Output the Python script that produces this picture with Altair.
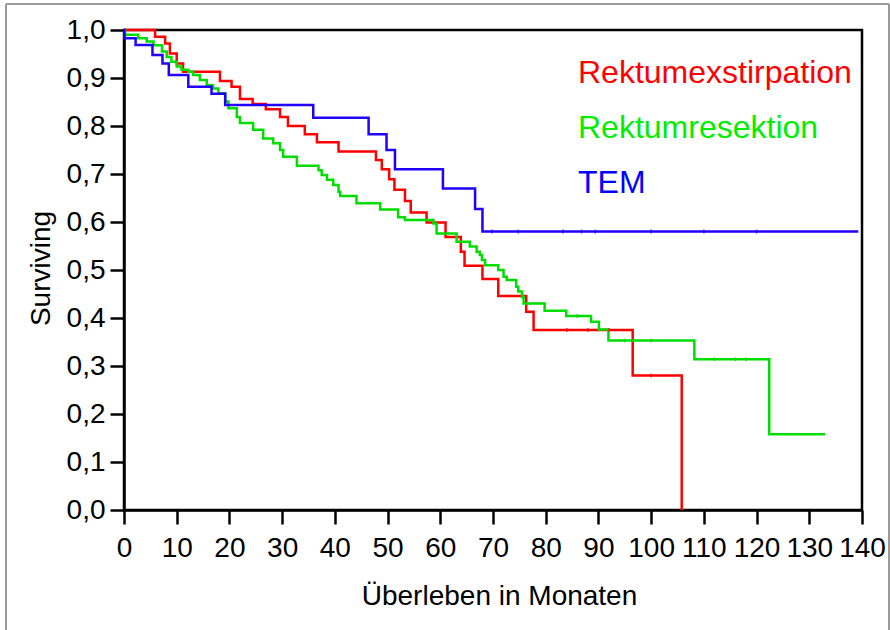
import altair as alt
import pandas as pd

# Kaplan-Meier step points (months, survival fraction) for each procedure
ext_months = [0, 5.9, 7.8, 8.7, 10.0, 11.2, 18.2, 20.4, 22.0, 24.4, 26.9, 29.6, 31.1, 34.3,
              36.6, 40.7, 47.8, 48.9, 50.3, 51.3, 53.3, 54.4, 57.4, 61.0, 63.9, 64.6,
              68.0, 71.0, 76.3, 77.7, 96.5, 105.8]
ext_surv = [1.0, 0.986, 0.972, 0.951, 0.93, 0.913, 0.894, 0.882, 0.856, 0.846, 0.835, 0.819, 0.80, 0.783,
            0.766, 0.747, 0.729, 0.71, 0.689, 0.667, 0.644, 0.620, 0.599, 0.569, 0.538, 0.509,
            0.481, 0.446, 0.413, 0.375, 0.28, 0.0]

res_months = [0, 0.2, 2.7, 4.3, 5.6, 7.2, 8.1, 9.0, 10.0, 10.9, 12.2, 13.1, 14.4, 15.7, 16.9,
              17.9, 19.2, 19.8, 21.4, 22.0, 24.5, 26.4, 28.3, 29.6, 30.2, 32.8, 36.9, 37.5,
              38.5, 39.7, 40.7, 41.0, 44.1, 48.6, 52.0, 53.3, 58.7, 59.3, 63.1, 65.6, 66.9,
              67.5, 67.9, 68.5, 71.0, 72.0, 72.6, 74.4, 74.8, 75.5, 75.8, 79.8, 83.9, 88.6,
              90.1, 91.9, 108.2, 122.4, 133.0]
res_surv = [1.0, 0.99, 0.983, 0.976, 0.968, 0.955, 0.944, 0.934, 0.924, 0.917, 0.913, 0.906, 0.896,
            0.885, 0.878, 0.868, 0.851, 0.837, 0.819, 0.806, 0.792, 0.774, 0.764, 0.75, 0.736,
            0.717, 0.708, 0.698, 0.688, 0.677, 0.663, 0.654, 0.639, 0.626, 0.61, 0.604, 0.597,
            0.576, 0.559, 0.549, 0.538, 0.531, 0.521, 0.51, 0.5, 0.486, 0.479, 0.465, 0.455,
            0.444, 0.43, 0.415, 0.404, 0.392, 0.376, 0.353, 0.314, 0.158, 0.158]

tem_months = [0, 0.1, 2.2, 5.4, 7.3, 8.5, 12.2, 16.6, 19.2, 35.9, 46.4, 49.8, 51.4, 60.5,
              66.6, 68.0, 139.3]
tem_surv = [1.0, 0.983, 0.969, 0.948, 0.93, 0.906, 0.882, 0.867, 0.844, 0.817, 0.783, 0.75,
            0.71, 0.67, 0.627, 0.58, 0.58]

# Censored observations (small ticks on the curves)
ext_cens_months = [84.0, 88.0, 92.0, 100.0]
ext_cens_surv = [0.375, 0.375, 0.375, 0.28]
res_cens_months = [86.0, 95.0, 100.0, 112.0, 116.0, 118.0]
res_cens_surv = [0.404, 0.353, 0.353, 0.314, 0.314, 0.314]
tem_cens_months = [69.8, 74.8, 83.3, 86.8, 89.4, 100.0, 110.0, 120.0]
tem_cens_surv = [0.58] * 8

groups = ["Rektumexstirpation", "Rektumresektion", "TEM"]
line_colors = ["#ff0000", "#00dd00", "#2200ff"]
text_colors = ["#ff0000", "#00ee00", "#0000ff"]

curves = pd.concat([
    pd.DataFrame({"Monate": ext_months, "Surviving": ext_surv, "Gruppe": groups[0]}),
    pd.DataFrame({"Monate": res_months, "Surviving": res_surv, "Gruppe": groups[1]}),
    pd.DataFrame({"Monate": tem_months, "Surviving": tem_surv, "Gruppe": groups[2]}),
])
censored = pd.concat([
    pd.DataFrame({"Monate": ext_cens_months, "Surviving": ext_cens_surv, "Gruppe": groups[0]}),
    pd.DataFrame({"Monate": res_cens_months, "Surviving": res_cens_surv, "Gruppe": groups[1]}),
    pd.DataFrame({"Monate": tem_cens_months, "Surviving": tem_cens_surv, "Gruppe": groups[2]}),
])

FONT = "Liberation Sans"

x_scale = alt.Scale(domain=[0, 140], nice=False)
y_scale = alt.Scale(domain=[0, 1], nice=False)
color_scale = alt.Scale(domain=groups, range=line_colors)

x_axis = alt.Axis(
    title="Überleben in Monaten", values=list(range(0, 141, 10)), format="d",
    grid=False, tickSize=14, tickWidth=2.5, domainWidth=2.5, domainColor="black",
    tickColor="black", labelFontSize=28, labelFont=FONT, labelColor="black",
    labelPadding=10, labelFlush=False, labelOverlap=False,
    titleFontSize=28, titleFont=FONT, titleFontWeight="normal", titleColor="black",
    titleX=375, titleY=94, titleBaseline="alphabetic",
)
y_axis = alt.Axis(
    title="Surviving", values=[i / 10 for i in range(11)],
    labelExpr="replace(format(datum.value, '.1f'), '.', ',')",
    grid=False, tickSize=14, tickWidth=2.5, domainWidth=2.5, domainColor="black",
    tickColor="black", labelFontSize=28, labelFont=FONT, labelColor="black",
    labelPadding=5, labelFlush=False, labelOverlap=False,
    titleFontSize=28, titleFont=FONT, titleFontWeight="normal", titleColor="black",
    titleX=-83, titleY=238, titleAngle=270, titleAlign="center", titleBaseline="middle",
)

lines = alt.Chart(curves).mark_line(interpolate="step-after", strokeWidth=2.5).encode(
    x=alt.X("Monate:Q", scale=x_scale, axis=x_axis),
    y=alt.Y("Surviving:Q", scale=y_scale, axis=y_axis),
    color=alt.Color("Gruppe:N", scale=color_scale, legend=None),
    detail="Gruppe:N",
)

ticks = alt.Chart(censored).mark_tick(orient="vertical", size=4, thickness=1.5).encode(
    x=alt.X("Monate:Q", scale=x_scale),
    y=alt.Y("Surviving:Q", scale=y_scale),
    color=alt.Color("Gruppe:N", scale=color_scale, legend=None),
)

# Group labels in the upper right of the plot area (one text per group)
label_rows = [53, 108, 163]
labels = alt.layer(*[
    alt.Chart(pd.DataFrame({"Gruppe": [groups[i]]})).mark_text(
        align="left", baseline="alphabetic", fontSize=32, font=FONT,
        color=text_colors[i],
    ).encode(x=alt.value(454), y=alt.value(label_rows[i]), text="Gruppe:N")
    for i in range(3)
])

# Outer light-gray frame around the figure
frame_color = "#9a9a9a"
one_row = pd.DataFrame({"k": [0]})
frame = alt.layer(
    alt.Chart(one_row).mark_rule(color=frame_color, strokeWidth=2).encode(
        x=alt.value(-118), y=alt.value(-26), y2=alt.value(610)),
    alt.Chart(one_row).mark_rule(color=frame_color, strokeWidth=2).encode(
        x=alt.value(-118), x2=alt.value(765), y=alt.value(-26)),
    alt.Chart(one_row).mark_rule(color=frame_color, strokeWidth=2).encode(
        x=alt.value(765), y=alt.value(-26), y2=alt.value(610)),
)

chart = alt.layer(frame, lines, ticks, labels).properties(
    width=738, height=480,
    autosize=alt.AutoSizeParams(type="none"),
    padding={"left": 124, "top": 30, "right": 28, "bottom": 120},
    background="white",
).configure_view(stroke="black", strokeWidth=2.5)

chart.save("out.html", embed_options={"renderer": "svg", "actions": False})
